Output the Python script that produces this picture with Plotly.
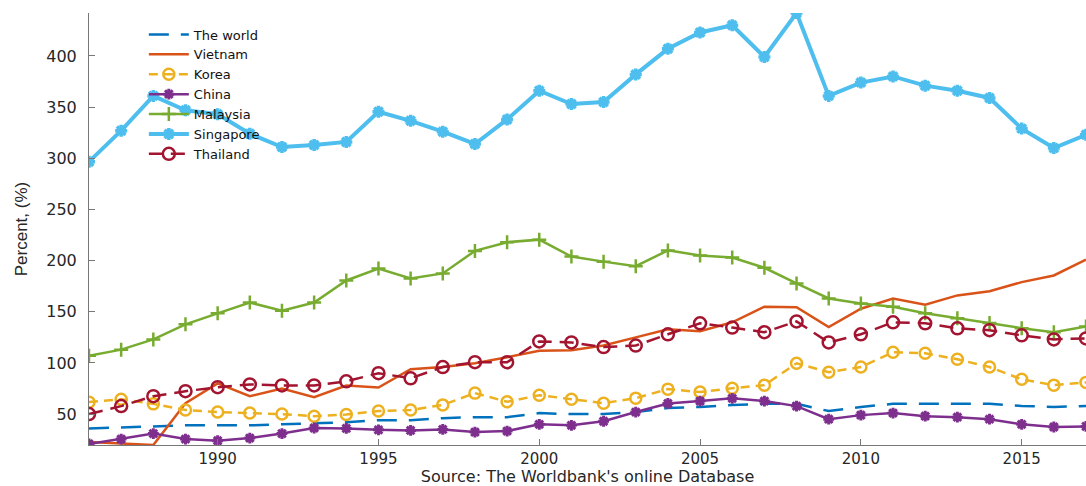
import plotly.graph_objects as go

years = list(range(1986, 2018))

world = [36, 37, 38, 39, 39, 39, 40, 41, 42, 44, 44, 46, 47, 47, 51, 50, 50, 52, 56, 57,
         59, 60, 60, 53, 57, 60, 60, 60, 60, 58, 57, 58]
vietnam = [22.7, 21, 19.8, 60.7, 80, 67.5, 75, 66.6, 78, 76, 93.8, 96, 99.6, 105.6, 112, 112.5,
           117, 125, 133, 131, 139.7, 155, 154.5, 135, 153, 163, 157, 166, 170, 179, 185.5, 201]
korea = [61.7, 64.6, 60, 54, 52, 51, 50, 48, 49.6, 53, 54, 59, 70.5, 62, 68.5, 64.6,
         60.7, 65.6, 74.4, 71.5, 75.3, 78.3, 99.7, 91, 96, 110.4, 109.5, 103.6, 96, 84, 78.3, 81]
china = [20.8, 25.6, 31, 25.6, 24, 26.6, 31, 36.4, 36, 34.6, 34, 35, 32.4, 33.4, 40, 39,
         43, 52, 60.4, 62.7, 65.4, 62.7, 57.8, 45, 49, 51, 48, 47, 45, 40, 37.4, 38]
malaysia = [107, 113, 123, 137.7, 148.5, 159, 151, 159, 180.6, 192.3, 182.6, 187.5, 209.5, 218,
            220.5, 204, 199, 194.5, 210, 205, 203, 193, 177.7, 163, 158, 155, 148.5, 143.6,
            139, 134, 130, 135.7]
singapore = [296.7, 327, 361, 347, 343, 324, 311, 313, 316, 345.5, 336.6, 326, 314, 338, 366,
             353, 355, 382, 407, 423, 430, 399, 442, 361, 374, 380, 371, 366, 359, 329, 310, 323]
thailand = [50, 57.8, 67.5, 72.4, 76.3, 79, 78, 78, 82, 90, 85, 96, 100.7, 100.7, 121, 120,
            115.5, 117, 128, 138.7, 134.6, 130, 140.6, 120, 128, 139.7, 138.7, 133.8, 132, 127,
            123, 124]

y_ticks = [50, 100, 150, 200, 250, 300, 350, 400]
x_ticks = [1990, 1995, 2000, 2005, 2010, 2015]

AX = "#262626"
FONT = "DejaVu Sans, Liberation Sans, Arial, sans-serif"
NARROW = "Liberation Sans Narrow, Liberation Sans, Arial, sans-serif"

fig = go.Figure()

fig.add_trace(go.Scatter(x=years, y=world, name="The world", mode="lines",
                         line=dict(color="#0072BD", width=2.5, dash="20px,12px")))
fig.add_trace(go.Scatter(x=years, y=vietnam, name="Vietnam", mode="lines",
                         line=dict(color="#D95319", width=2.5)))
fig.add_trace(go.Scatter(x=years, y=korea, name="Korea", mode="lines+markers",
                         line=dict(color="#EDB120", width=2.5, dash="9px,6px"),
                         marker=dict(symbol="circle-open", size=11,
                                     line=dict(color="#EDB120", width=2.5))))
fig.add_trace(go.Scatter(x=years, y=china, name="China", mode="lines+markers",
                         line=dict(color="#7E2F8E", width=2.5),
                         marker=dict(symbol="asterisk-open", size=9,
                                     line=dict(color="#7E2F8E", width=3))))
fig.add_trace(go.Scatter(x=years, y=malaysia, name="Malaysia", mode="lines+markers",
                         line=dict(color="#77AC30", width=2.5),
                         marker=dict(symbol="cross-thin-open", size=10,
                                     line=dict(color="#77AC30", width=2.5))))
fig.add_trace(go.Scatter(x=years, y=singapore, name="Singapore", mode="lines+markers",
                         line=dict(color="#4DBEEE", width=4),
                         marker=dict(symbol="asterisk-open", size=10,
                                     line=dict(color="#4DBEEE", width=3.5))))
fig.add_trace(go.Scatter(x=years, y=thailand, name="Thailand", mode="lines+markers",
                         line=dict(color="#A2142F", width=2.5, dash="14px,8px"),
                         marker=dict(symbol="circle-open", size=12,
                                     line=dict(color="#A2142F", width=2.5))))

fig.update_layout(
    width=1086, height=486,
    margin=dict(l=89, r=0, t=13, b=41),
    paper_bgcolor="white", plot_bgcolor="white",
    font=dict(family=FONT, color=AX, size=15),
    showlegend=True,
    legend=dict(x=0.055, y=0.985, xanchor="left", yanchor="top",
                bgcolor="rgba(0,0,0,0)", borderwidth=0,
                font=dict(family=FONT, size=13, color="#111"),
                tracegroupgap=0, itemwidth=40),
)

fig.update_xaxes(
    range=[1986, 2017], tickvals=x_ticks, ticktext=[str(t) for t in x_ticks],
    showgrid=False, zeroline=False, showline=True, linecolor="#777", linewidth=1,
    ticks="inside", ticklen=6, tickcolor="#777",
    tickfont=dict(family=FONT, size=15, color=AX),
    title=dict(text="Source: The Worldbank's online Database",
               font=dict(family=FONT, size=16, color=AX), standoff=2),
)
fig.update_yaxes(
    range=[19.8, 442], tickvals=y_ticks, ticktext=[str(t) for t in y_ticks],
    showgrid=False, zeroline=False, showline=True, linecolor="#777", linewidth=1,
    ticks="inside", ticklen=6, tickcolor="#777", ticklabelstandoff=8,
    tickfont=dict(family=FONT, size=16, color=AX),
    title=dict(text="Percent, (%)", font=dict(family=NARROW, size=17, color=AX), standoff=14),
)

fig.write_html("out.html")
